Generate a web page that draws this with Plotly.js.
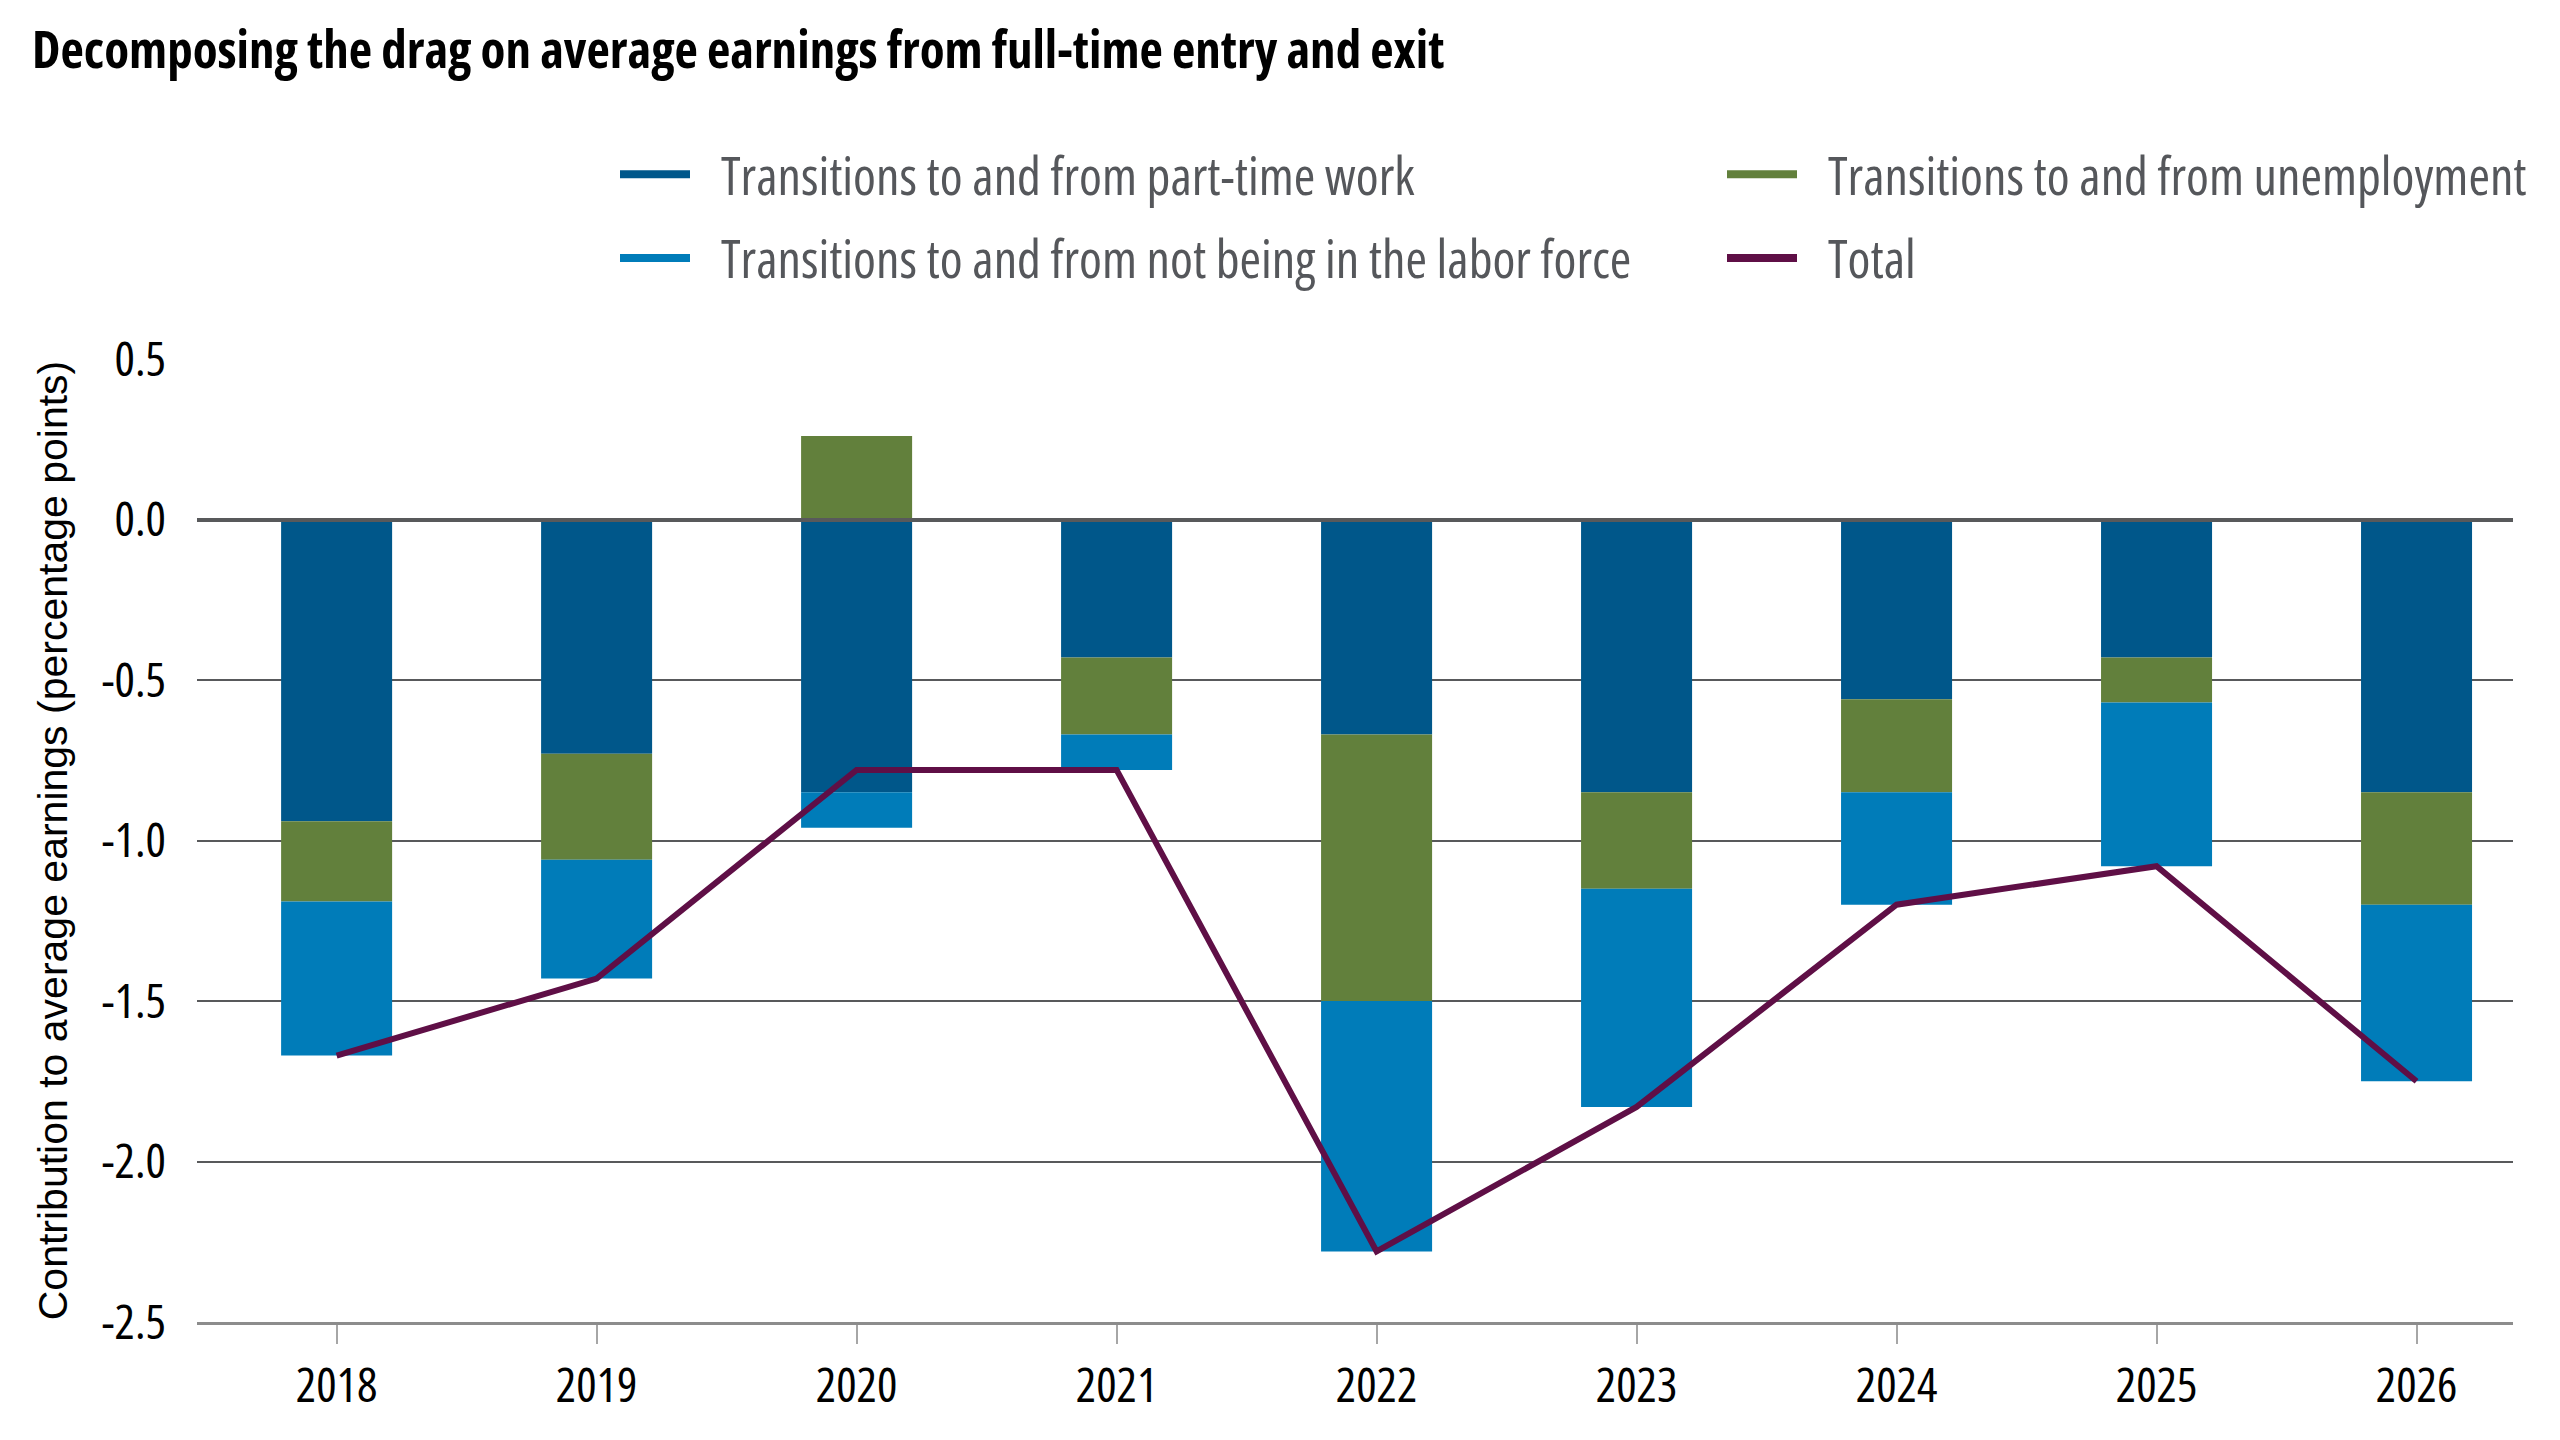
<!DOCTYPE html>
<html>
<head>
<meta charset="utf-8">
<script src="https://cdn.plot.ly/plotly-3.0.1.min.js"></script>
<style>
  html, body { margin: 0; padding: 0; background: #ffffff; }
  #chart { width: 2560px; height: 1440px; }
  /* Open Sans is a variable font here: use its condensed width */
  #chart text { font-stretch: 75%; }
</style>
</head>
<body>
<div id="chart"></div>
<script>
// Chart data (percentage points)
const years = ['2018', '2019', '2020', '2021', '2022', '2023', '2024', '2025', '2026'];
const partTime = [-0.94, -0.73, -0.85, -0.43, -0.67, -0.85, -0.56, -0.43, -0.85];
const unemployment = [-0.25, -0.33, 0.26, -0.24, -0.83, -0.30, -0.29, -0.14, -0.35];
const notInLaborForce = [-0.48, -0.37, -0.11, -0.11, -0.78, -0.68, -0.35, -0.51, -0.55];
const total = [-1.67, -1.43, -0.78, -0.78, -2.28, -1.83, -1.20, -1.08, -1.75];

const yTickVals = [0.5, 0, -0.5, -1, -1.5, -2, -2.5];
const yTickText = ['0.5', '0.0', '-0.5', '-1.0', '-1.5', '-2.0', '-2.5'];

const seriesNames = [
    'Transitions to and from part-time work',
    'Transitions to and from unemployment',
    'Transitions to and from not being in the labor force',
    'Total'
];

const colors = {
    partTime: '#00578a',
    unemployment: '#62803c',
    notInLaborForce: '#007cb9',
    total: '#5f0f46',
    grid: '#58595b',
    axis: '#8c8c8c',
    legendText: '#55575b'
};

const condensed = '"Open Sans", "DejaVu Sans Condensed", sans-serif';
const regular = '"Liberation Sans", Arial, sans-serif';

// Stacked bars (legend shown with line keys below)
const barTrace = (y, color) => ({
    type: 'bar',
    x: years,
    y: y,
    marker: { color: color },
    showlegend: false,
    hoverinfo: 'x+y'
});

// Legend-only keys drawn as short lines; en space keeps a gap after the key
const legendKey = (name, color, legend, group) => ({
    type: 'scatter',
    mode: 'lines',
    x: [years[0]],
    y: [null],
    name: '\u2002' + name,
    line: { color: color, width: 8 },
    legend: legend,
    legendgroup: group,
    hoverinfo: 'skip'
});

const traces = [
    barTrace(partTime, colors.partTime),
    barTrace(unemployment, colors.unemployment),
    barTrace(notInLaborForce, colors.notInLaborForce),
    {
        type: 'scatter',
        mode: 'lines',
        x: years,
        y: total,
        name: seriesNames[3],
        line: { color: colors.total, width: 6 },
        showlegend: false
    },
    legendKey(seriesNames[0], colors.partTime, 'legend', 'a'),
    legendKey(seriesNames[2], colors.notInLaborForce, 'legend', 'c'),
    legendKey(seriesNames[1], colors.unemployment, 'legend2', 'b'),
    legendKey(seriesNames[3], colors.total, 'legend2', 'd')
];

// plot area: x 197..2513, y 359..1322 (px)
const legendBase = {
    xref: 'paper',
    yref: 'paper',
    xanchor: 'left',
    yanchor: 'top',
    y: (1322 - 134) / 963,
    orientation: 'v',
    traceorder: 'grouped',
    tracegroupgap: 13,
    itemwidth: 70,
    bgcolor: 'rgba(0,0,0,0)',
    borderwidth: 0,
    font: { family: condensed, size: 52, color: colors.legendText }
};

const layout = {
    width: 2560,
    height: 1440,
    margin: { l: 197, r: 47, t: 359, b: 118, autoexpand: false },
    paper_bgcolor: '#ffffff',
    plot_bgcolor: '#ffffff',
    barmode: 'relative',
    bargap: 0.573,
    title: {
        text: 'Decomposing the drag on average earnings from full-time entry and exit',
        x: 32 / 2560,
        xref: 'container',
        xanchor: 'left',
        y: 1 - 50 / 1440,
        yref: 'container',
        yanchor: 'middle',
        font: { family: condensed, size: 51, weight: 'bold', color: '#000000' }
    },
    xaxis: {
        type: 'category',
        range: [-0.537, 8.371],
        showgrid: false,
        showline: true,
        linecolor: colors.axis,
        linewidth: 3,
        ticks: 'outside',
        ticklen: 19,
        tickwidth: 2,
        tickcolor: '#a6a6a6',
        tickfont: { family: condensed, size: 48, color: '#000000' },
        fixedrange: true
    },
    yaxis: {
        range: [-2.5, 0.5],
        tickmode: 'array',
        tickvals: yTickVals,
        ticktext: yTickText,
        showgrid: true,
        gridcolor: colors.grid,
        gridwidth: 2,
        zeroline: true,
        zerolinecolor: colors.grid,
        zerolinewidth: 4,
        zerolinelayer: 'above traces',
        ticks: '',
        ticklabelstandoff: 30,
        tickfont: { family: condensed, size: 48, color: '#000000' },
        title: {
            text: 'Contribution to average earnings (percentage points)',
            standoff: 2,
            font: { family: regular, size: 41, color: '#000000' }
        },
        fixedrange: true
    },
    legend: Object.assign({}, legendBase, { x: (615 - 197) / 2316 }),
    legend2: Object.assign({}, legendBase, { x: (1722 - 197) / 2316 }),
    showlegend: true
};

const config = {
    responsive: false,
    displayModeBar: false
};

Plotly.newPlot('chart', traces, layout, config);
</script>
</body>
</html>
